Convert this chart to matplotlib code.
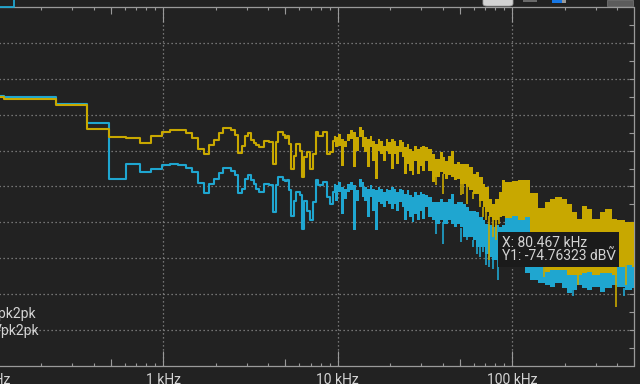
import numpy as np
import matplotlib
matplotlib.use('Agg')
import matplotlib.pyplot as plt
from matplotlib.ticker import FixedLocator, FixedFormatter, NullFormatter
from matplotlib.patches import Rectangle, FancyBboxPatch
from matplotlib.lines import Line2D

plt.rcParams['font.family'] = ['Roboto', 'DejaVu Sans']

# low frequency part: one level per FFT step, start of each step in kHz
step_khz = [0.100, 0.122, 0.244, 0.366, 0.488, 0.610, 0.732, 0.854, 0.977, 1.099,
            1.221, 1.343, 1.465, 1.587, 1.709, 1.831, 1.953, 2.075, 2.197, 2.441,
            2.563, 2.686, 2.808, 2.930, 3.052, 3.174, 3.296, 3.418, 3.540, 3.784,
            4.028, 4.272, 4.395, 4.517, 4.883, 5.005, 5.127, 5.249, 5.371, 5.615,
            5.737, 6.07, 6.23, 6.40, 6.63, 6.93, 7.24, 7.50, 7.73, 8.19,
            8.64, 9.02, 9.42]
step_end_khz = 9.637
yellow_step_dbv = [-35.1, -35.5, -37.4, -44.1, -46.3, -46.6, -47.9, -46.0, -44.9, -44.4,
                   -44.4, -45.1, -46.6, -49.6, -51.0, -48.5, -47.1, -45.1, -43.8, -44.4,
                   -45.6, -50.8, -48.6, -45.8, -45.2, -47.0, -48.0, -48.4, -49.1, -47.2,
                   -47.7, -53.7, -47.7, -44.9, -45.6, -46.6, -45.8, -48.1, -55.1, -51.4,
                   -48.1, -50.0, -57.4, -51.9, -50.5, -55.1, -50.9, -44.9, -45.8, -44.9,
                   -50.9, -50.5, -47.2]
cyan_step_dbv = [-34.8, -35.1, -36.9, -42.4, -58.0, -53.8, -56.0, -55.2, -54.1, -53.8,
                 -54.1, -54.9, -56.0, -59.1, -61.8, -59.3, -57.9, -56.3, -54.9, -55.6,
                 -56.9, -61.9, -60.6, -57.9, -56.9, -58.1, -59.3, -60.6, -61.4, -59.3,
                 -59.7, -67.1, -59.7, -57.4, -58.1, -58.6, -58.3, -61.1, -68.1, -63.9,
                 -61.6, -62.5, -71.8, -63.9, -66.7, -69.4, -64.4, -58.3, -59.7, -58.8,
                 -63.0, -64.8, -61.6]

# dense part: upper / lower edge of the bins inside each short frequency slice
band_khz = [9.637, 9.987, 10.43, 10.81, 11.25, 11.75, 12.27, 12.66, 13.23, 13.71,
            14.19, 14.64, 15.29, 15.77, 16.34, 16.93, 17.45, 18.23, 18.82, 19.47,
            20.18, 20.91, 21.64, 22.43, 23.24, 24.05, 24.83, 25.59, 26.52, 27.44,
            28.44, 29.47, 30.50, 31.60, 33.01, 34.52,
            36.06, 38.52, 39.92, 41.15, 42.98, 44.36, 46.33, 48.01, 50.14, 51.96,
            54.28, 56.70, 59.30, 61.94, 64.70, 67.67, 70.02, 73.24, 76.50, 79.90,
            83.56, 87.28,
            90.80, 99.21, 108.2, 118.2, 126.3, 140.9, 154.0, 164.4, 175.7, 191.9,
            205.0, 219.0, 233.9, 249.9, 266.9, 285.1, 318.1, 339.8, 371.3, 396.7,
            442.4, 483.4, 498.2]
yellow_top_dbv = [-46.3, -45.4, -46.8, -47.2, -45.4, -44.4, -44.9, -46.3, -43.5, -44.4,
                  -46.3, -46.8, -45.8, -47.2, -48.1, -46.8, -47.2, -48.6, -46.8, -47.7,
                  -46.8, -47.2, -48.6, -47.0, -47.7, -49.1, -48.1, -49.5, -50.0, -48.6,
                  -49.5, -49.1, -48.6, -49.1, -49.5, -50.9,
                  -52.3, -50.5, -51.9, -52.8, -51.4, -50.0, -53.7, -53.2, -53.7, -53.7,
                  -53.7, -54.6, -56.5, -56.0, -57.4, -59.3, -60.2, -63.4, -64.8, -63.4,
                  -61.6, -58.3,
                  -58.8, -58.6, -58.3, -58.3, -61.7, -66.1, -64.4, -63.4, -62.8, -63.4,
                  -64.8, -67.1, -69.0, -65.3, -66.2, -69.0, -67.1, -66.2, -69.0, -69.4,
                  -69.9, -69.9, -69.9]
yellow_bot_dbv = [-49.1, -48.6, -54.2, -49.1, -47.2, -46.8, -54.6, -50.0, -46.3, -49.1,
                  -50.5, -54.6, -49.1, -52.8, -57.9, -50.0, -50.9, -52.8, -50.0, -50.9,
                  -55.1, -50.9, -53.7, -50.5, -51.9, -56.5, -53.7, -55.6, -56.9, -52.8,
                  -56.5, -54.2, -55.6, -52.8, -55.6, -58.8,
                  -57.4, -56.0, -56.5, -57.9, -56.9, -57.4, -58.3, -57.9, -59.3, -59.3,
                  -60.2, -61.1, -62.0, -62.0, -63.9, -65.7, -67.1, -68.5, -69.4, -69.4,
                  -68.5, -68.1,
                  -68.9, -68.3, -69.4, -68.6, -76.0, -80.0, -83.8, -83.3, -83.3, -83.3,
                  -84.7, -84.7, -84.7, -84.2, -83.8, -84.7, -84.2, -84.2, -84.7, -82.4,
                  -81.9, -82.4, -82.4]
cyan_top_dbv = [-59.7, -58.8, -60.2, -60.6, -59.3, -58.8, -59.7, -61.1, -57.9, -58.8,
                -60.2, -60.6, -59.7, -60.6, -61.1, -60.2, -60.6, -61.6, -60.6, -61.1,
                -60.2, -60.6, -61.6, -60.6, -61.1, -62.0, -61.1, -62.5, -63.0, -61.6,
                -62.5, -61.6, -62.0, -62.5, -63.0, -64.4,
                -64.4, -63.4, -64.4, -64.4, -63.4, -62.0, -64.8, -64.4, -64.4, -64.8,
                -65.7, -66.7, -66.7, -67.1, -68.5, -69.4, -70.4, -70.8, -71.3, -70.8,
                -71.3, -70.8,
                -67.5, -67.0, -68.5, -68.1, -69.4, -72.0, -80.0, -80.0, -80.0, -80.0,
                -80.0, -80.0, -80.0, -80.0, -80.0, -80.0, -80.0, -80.0, -80.0, -80.0,
                -80.0, -80.0, -80.0]
cyan_bot_dbv = [-63.9, -61.6, -67.6, -63.4, -61.6, -61.1, -72.2, -63.9, -60.2, -63.0,
                -63.9, -68.5, -63.0, -66.7, -72.2, -64.4, -64.8, -65.7, -63.9, -64.8,
                -66.2, -64.8, -66.7, -64.4, -65.7, -69.4, -66.7, -68.5, -69.9, -67.6,
                -69.4, -66.7, -69.0, -65.7, -68.5, -69.4,
                -70.4, -69.4, -70.4, -70.4, -69.4, -70.4, -71.3, -70.4, -71.3, -74.1,
                -74.1, -74.1, -75.0, -76.9, -76.9, -76.9, -78.7, -79.6, -80.6, -80.6,
                -79.6, -80.0,
                -80.6, -81.5, -82.4, -84.2, -86.1, -87.0, -87.5, -88.0, -87.0, -88.4,
                -89.7, -88.9, -87.5, -88.4, -88.9, -88.0, -89.3, -88.4, -87.5, -88.0,
                -88.9, -88.4, -88.4]

# single deep bins poking out under the bands
yellow_spike_khz = [36.4, 40.3, 50.6, 52.4, 54.8, 59.8, 65.3, 68.3, 70.6, 73.9,
                    77.2, 80.6, 84.3, 151.0, 236.7, 392.9, 451.2]
yellow_spike_dbv = [-59.7, -62.0, -62.5, -62.0, -64.8, -63.4, -65.7, -68.5, -69.4, -80.6,
                    -74.1, -75.0, -70.4, -85.2, -87.5, -93.6, -87.5]
cyan_spike_khz = [36.4, 40.3, 50.6, 54.8, 59.8, 62.5, 65.3, 68.3, 70.6, 73.9,
                  77.2, 83.2, 222.9, 439.5]
cyan_spike_dbv = [-73.1, -75.9, -75.5, -75.0, -76.9, -78.7, -79.6, -78.2, -81.9, -82.4,
                  -82.9, -86.1, -90.6, -90.6]

cursor_khz = 80.467
cursor_dbv = -74.76323

tick_khz = [0.1, 1, 10, 100]
tick_labels = ['100 Hz', '1 kHz', '10 kHz', '100 kHz']

BG = '#222222'
FRAME = '#9a9a9a'
GRID = '#8e8e8e'
YEL = '#c8a800'
CYN = '#1fa6d0'
TXT = '#d4d4d4'

W, H = 640, 384
fig = plt.figure(figsize=(6.4, 3.84), dpi=100, facecolor=BG)
# plot area runs off the left edge of the screenshot
left_px, right_px, top_px, bot_px = -60, 633.5, 7, 366
ax = fig.add_axes([left_px / W, 1 - bot_px / H, (right_px - left_px) / W, (bot_px - top_px) / H])
ax.set_facecolor(BG)
ax.set_xscale('log')
ax.set_xlim(0.0525, 495)
ax.set_ylim(-110, -10)


def draw_trace(step_vals, top, bot, sp_khz, sp_dbv, color, z):
    ax.step(step_khz + [step_end_khz], step_vals + [top[0]], where='post',
            color=color, lw=1.5, zorder=z)
    ax.fill_between(band_khz, bot, top, step='post', color=color, lw=0, zorder=z)
    start = np.interp(np.log10(sp_khz), np.log10(band_khz), bot)
    ax.vlines(sp_khz, sp_dbv, start + 0.5, color=color, lw=1.2, zorder=z)


draw_trace(cyan_step_dbv, cyan_top_dbv, cyan_bot_dbv, cyan_spike_khz, cyan_spike_dbv, CYN, 3)
draw_trace(yellow_step_dbv, yellow_top_dbv, yellow_bot_dbv, yellow_spike_khz, yellow_spike_dbv, YEL, 4)

# axes, ticks and grid
ax.xaxis.set_major_locator(FixedLocator(tick_khz))
ax.xaxis.set_major_formatter(FixedFormatter(tick_labels))
minor = [m * d for d in [0.01, 0.1, 1, 10, 100] for m in range(2, 10)]
ax.xaxis.set_minor_locator(FixedLocator(minor))
ax.xaxis.set_minor_formatter(NullFormatter())
ax.yaxis.set_major_locator(FixedLocator(np.arange(-100, -10, 10)))
ax.yaxis.set_minor_locator(FixedLocator(np.arange(-105, -10, 10)))
ax.tick_params(axis='x', which='major', direction='in', length=10.8, width=0.8,
               color=FRAME, top=True, bottom=True, labelsize=10, labelcolor=TXT, pad=5.2)
ax.tick_params(axis='x', which='minor', direction='in', length=2.5, width=0.8,
               color=FRAME, top=True, bottom=True)
ax.tick_params(axis='y', which='both', direction='in', length=3.5, width=0.8,
               color=FRAME, left=False, right=True, labelleft=False)
# longer ticks at the 5x positions
fives = [0.5, 5, 50]
tr = ax.get_xaxis_transform()
tl = 7 / (bot_px - top_px)
ax.vlines(fives, 0, tl, transform=tr, color=FRAME, lw=0.8, zorder=5)
ax.vlines(fives, 1 - tl, 1, transform=tr, color=FRAME, lw=0.8, zorder=5)

ax.grid(True, which='major', color=GRID, lw=0.9, linestyle=(0, (1, 2.2)))
ax.set_axisbelow(True)
for side in ['top', 'bottom', 'right']:
    ax.spines[side].set_color(FRAME)
    ax.spines[side].set_linewidth(0.9)
ax.spines['left'].set_visible(False)

# cursor readout
ax.annotate('X: 80.467 kHz\nY1: -74.76323 dB\u1E7C', xy=(cursor_khz, cursor_dbv),
            xytext=(4.3, 2.8), textcoords='offset points', ha='left', va='top',
            fontsize=10, color=TXT, linespacing=0.98, zorder=10,
            bbox=dict(boxstyle='square,pad=0.25', fc='#1b1b1b', ec='none'))

# channel readouts cut by the left edge
fig.text(36.7 / W, 1 - 318 / H, 'Vpk2pk', ha='right', va='baseline', fontsize=10, color=TXT)
fig.text(39.6 / W, 1 - 334.5 / H, 'Vpk2pk', ha='right', va='baseline', fontsize=10, color=TXT)

# bits of the toolbar above the plot
ft = fig.transFigure
fig.lines.append(Line2D([0, 14.3 / W, 14.3 / W], [1 - 6.5 / H, 1 - 6.5 / H, 1],
                        transform=ft, color=CYN, lw=1.3))
fig.patches.append(FancyBboxPatch((483 / W, 1 - 6 / H), 30 / W, 10 / H,
                                  boxstyle='round,pad=0,rounding_size=0.006',
                                  transform=ft, fc='#d2d2d2', ec='#a0a0a0', lw=0.6))
fig.patches.append(Rectangle((523 / W, 1 - 2 / H), 14 / W, 2 / H, transform=ft, fc='#6a6a6a', ec='none'))
fig.patches.append(Rectangle((552 / W, 1 - 2.5 / H), 10 / W, 2.5 / H, transform=ft, fc='#1677e6', ec='none'))
fig.patches.append(Rectangle((562 / W, 1 - 2.5 / H), 4 / W, 2.5 / H, transform=ft, fc='#9a9a9a', ec='none'))
fig.patches.append(Rectangle((607 / W, 1 - 6 / H), 26 / W, 6 / H, transform=ft, fc='#5c5c5c', ec='#7a7a7a', lw=0.5))

fig.savefig('out.png', dpi=100, facecolor=BG)
